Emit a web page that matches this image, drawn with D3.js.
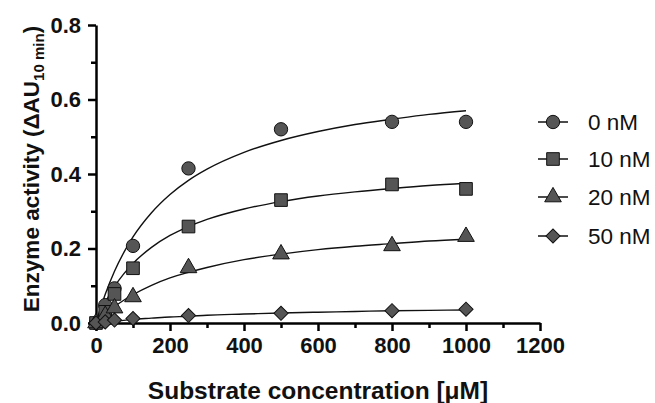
<!DOCTYPE html>
<html lang="en">
<head>
<meta charset="UTF-8">
<title>Enzyme activity</title>
<script src="https://cdnjs.cloudflare.com/ajax/libs/d3/7.8.5/d3.min.js"></script>
<style>
  body { margin: 0; background: #fff; font-family: Arial, "Liberation Sans", sans-serif; }
  .axis path, .axis line { stroke: #000; stroke-width: 2.5px; }
  .axis text { font-family: Arial, "Liberation Sans", sans-serif; font-weight: bold; font-size: 22px; fill: #111; }
</style>
</head>
<body>
<div id="chart"></div>
<script>
// measured points
const conc = [0, 25, 50, 100, 250, 500, 800, 1000];
const series = ["0 nM", "10 nM", "20 nM", "50 nM"];
const act0 = [0, 0.048, 0.093, 0.207, 0.415, 0.52, 0.54, 0.54];
const act10 = [0, 0.03, 0.078, 0.147, 0.259, 0.33, 0.372, 0.36];
const act20 = [0, 0.02, 0.04, 0.07, 0.148, 0.185, 0.207, 0.232];
const act50 = [0, 0.003, 0.008, 0.012, 0.02, 0.026, 0.033, 0.037];

// fitted curves
const fitX = [0, 10, 25, 50, 75, 100, 150, 200, 250, 300, 400, 500, 600, 700, 800, 900, 1000];
const fit0 = [0, 0.033, 0.077, 0.139, 0.189, 0.231, 0.296, 0.345, 0.383, 0.413, 0.458, 0.490, 0.514, 0.533, 0.547, 0.560, 0.570];
const fit10 = [0, 0.024, 0.055, 0.098, 0.132, 0.160, 0.203, 0.235, 0.259, 0.278, 0.306, 0.326, 0.341, 0.352, 0.361, 0.369, 0.375];
const fit20 = [0, 0.010, 0.024, 0.044, 0.061, 0.076, 0.101, 0.121, 0.136, 0.149, 0.170, 0.185, 0.197, 0.206, 0.213, 0.220, 0.225];
const fit50 = [0, 0.001, 0.003, 0.005, 0.007, 0.010, 0.013, 0.016, 0.018, 0.021, 0.024, 0.027, 0.029, 0.031, 0.033, 0.034, 0.035];

const xTicks = [0, 200, 400, 600, 800, 1000, 1200];
const xMinor = [100, 300, 500, 700, 900, 1100];
const yTicks = [0, 0.2, 0.4, 0.6, 0.8];
const yMinor = [0.1, 0.3, 0.5, 0.7];

const width = 655, height = 403;
const x = d3.scaleLinear().domain([0, 1200]).range([96, 540]);
const y = d3.scaleLinear().domain([0, 0.8]).range([323, 25]);

const svg = d3.select("#chart").append("svg")
    .attr("width", width)
    .attr("height", height);

// circle, square, triangle, diamond (square turned 45deg)
const symbols = [d3.symbolCircle, d3.symbolSquare, d3.symbolTriangle, d3.symbolSquare];
const sizes = [140, 160, 120, 100];
const turn = [0, 0, 0, 45];
const points = [act0, act10, act20, act50];
const fits = [fit0, fit10, fit20, fit50];

// minor ticks
svg.append("g").attr("class", "axis")
    .attr("transform", `translate(0,${y(0)})`)
    .call(d3.axisBottom(x).tickValues(xMinor).tickSize(5).tickFormat(""))
    .call(g => g.select(".domain").remove());
svg.append("g").attr("class", "axis")
    .attr("transform", `translate(${x(0)},0)`)
    .call(d3.axisLeft(y).tickValues(yMinor).tickSize(5).tickFormat(""))
    .call(g => g.select(".domain").remove());

// major axes
svg.append("g").attr("class", "axis")
    .attr("transform", `translate(0,${y(0)})`)
    .call(d3.axisBottom(x).tickValues(xTicks).tickSize(8).tickSizeOuter(0).tickPadding(6).tickFormat(d3.format("d")));
svg.append("g").attr("class", "axis")
    .attr("transform", `translate(${x(0)},0)`)
    .call(d3.axisLeft(y).tickValues(yTicks).tickSize(8).tickSizeOuter(0).tickPadding(7).tickFormat(d3.format(".1f")));

// fitted lines
const line = d3.line()
    .x((d, i) => x(fitX[i]))
    .y(d => y(d))
    .curve(d3.curveMonotoneX);

fits.forEach(f => {
  svg.append("path")
      .datum(f)
      .attr("fill", "none")
      .attr("stroke", "#111")
      .attr("stroke-width", 1.4)
      .attr("d", line);
});

// markers
points.forEach((vals, s) => {
  svg.append("g").selectAll("path")
    .data(vals)
    .join("path")
      .attr("transform", (d, i) => `translate(${x(conc[i])},${y(d)}) rotate(${turn[s]})`)
      .attr("d", d3.symbol().type(symbols[s]).size(sizes[s]))
      .attr("fill", "#555")
      .attr("stroke", "#111")
      .attr("stroke-width", 1);
});

// legend
const legY = [122, 159, 197, 236];
series.forEach((name, s) => {
  const g = svg.append("g").attr("transform", `translate(553,${legY[s]})`);
  g.append("line")
      .attr("x1", -15).attr("x2", 15)
      .attr("stroke", "#111").attr("stroke-width", 1.5);
  g.append("path")
      .attr("transform", `rotate(${turn[s]})`)
      .attr("d", d3.symbol().type(symbols[s]).size(sizes[s]))
      .attr("fill", "#555")
      .attr("stroke", "#111")
      .attr("stroke-width", 1);
  g.append("text")
      .attr("x", 35)
      .attr("dy", "0.35em")
      .attr("font-size", 22.5)
      .attr("fill", "#111")
      .text(name);
});

// axis titles
svg.append("text")
    .attr("x", 318)
    .attr("y", 399)
    .attr("text-anchor", "middle")
    .attr("font-size", 24.5)
    .attr("font-weight", "bold")
    .attr("fill", "#111")
    .text("Substrate concentration [μM]");

const yt = svg.append("text")
    .attr("transform", "translate(39,169) rotate(-90)")
    .attr("text-anchor", "middle")
    .attr("font-size", 22.5)
    .attr("font-weight", "bold")
    .attr("fill", "#111");
yt.append("tspan").text("Enzyme activity (ΔAU");
yt.append("tspan").attr("font-size", 15).attr("dy", 5).text("10 min");
yt.append("tspan").attr("dy", -5).text(")");
</script>
</body>
</html>
